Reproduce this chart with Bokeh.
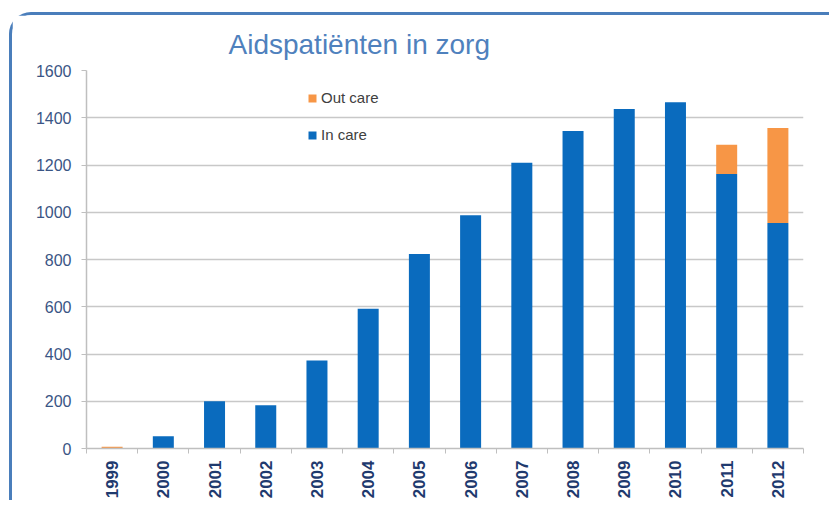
from bokeh.plotting import figure
from bokeh.models import Range1d, FixedTicker, Legend, LegendItem, ColumnDataSource
from bokeh.embed import file_html
from bokeh.resources import INLINE

years = ["1999", "2000", "2001", "2002", "2003", "2004", "2005", "2006",
         "2007", "2008", "2009", "2010", "2011", "2012"]
in_care = [0, 52, 200, 183, 373, 592, 823, 987, 1210, 1344, 1437, 1466, 1162, 955]
out_care = [7, 0, 0, 0, 0, 0, 0, 0, 0, 0, 0, 0, 124, 402]
y_ticks = [0, 200, 400, 600, 800, 1000, 1200, 1400, 1600]

BLUE = "#0A6BBE"
ORANGE = "#F79646"

xc = [i + 0.5 for i in range(len(years))]
src = ColumnDataSource(dict(x=xc, in_care=in_care, out_care=out_care))

p = figure(width=820, height=488, output_backend="svg", toolbar_location=None,
           x_range=Range1d(0, len(years)), y_range=Range1d(y_ticks[0], y_ticks[-1]),
           min_border_left=74, min_border_top=52, min_border_bottom=55,
           min_border_right=29)
p.margin = (12, 0, 0, 9)
p.styles = {"border-left": "3px solid #4A7EBB", "border-top": "3px solid #4A7EBB",
            "border-top-left-radius": "22px"}
p.outline_line_color = None
p.background_fill_color = "white"
p.border_fill_color = "white"

r = p.vbar_stack(["in_care", "out_care"], x="x", width=0.41, source=src,
                 color=[BLUE, ORANGE], line_color=None)

# title
p.title.text = "Aidspatiënten in zorg"
p.title.text_font = "Liberation Sans"
p.title.text_font_size = "28px"
p.title.text_font_style = "normal"
p.title.text_color = "#4F81BD"
p.title.align = "left"
p.title.offset = 142
p.title.standoff = 22

# x axis
xa = p.xaxis[0]
xa.ticker = FixedTicker(ticks=xc, minor_ticks=list(range(len(years) + 1)))
xa.major_label_overrides = {x: y for x, y in zip(xc, years)}
xa.major_label_orientation = 1.5707963
xa.major_tick_line_color = None
xa.minor_tick_line_color = "#BFBFBF"
xa.minor_tick_out = 5
xa.minor_tick_in = 0
xa.axis_line_color = "#BFBFBF"
xa.axis_line_width = 1.5
xa.major_label_text_font = "Liberation Sans"
xa.major_label_text_font_size = "17px"
xa.major_label_text_font_style = "bold"
xa.major_label_text_color = "#1F3A6E"
xa.major_label_standoff = 6

# y axis
ya = p.yaxis[0]
ya.ticker = FixedTicker(ticks=y_ticks)
ya.axis_line_color = "#BFBFBF"
ya.axis_line_width = 1.5
ya.major_tick_line_color = "#BFBFBF"
ya.major_tick_out = 5
ya.major_tick_in = 0
ya.minor_tick_line_color = None
ya.major_label_text_font = "Liberation Sans"
ya.major_label_text_font_size = "16px"
ya.major_label_text_color = "#3A5585"
ya.major_label_standoff = 10

p.xgrid.grid_line_color = None
p.ygrid.grid_line_color = "#C8C8C8"
p.ygrid.grid_line_width = 1.5

legend = Legend(items=[LegendItem(label="Out care", renderers=[r[1]]),
                       LegendItem(label="In care", renderers=[r[0]])],
                location=(221, 305), orientation="vertical",
                glyph_width=10, glyph_height=10, label_standoff=4,
                spacing=20, padding=0, margin=0,
                background_fill_alpha=0, border_line_color=None,
                label_text_font="Liberation Sans", label_text_font_size="15px",
                label_text_color="#404040")
p.add_layout(legend, "center")

open("out.html", "w").write(file_html(p, INLINE))
